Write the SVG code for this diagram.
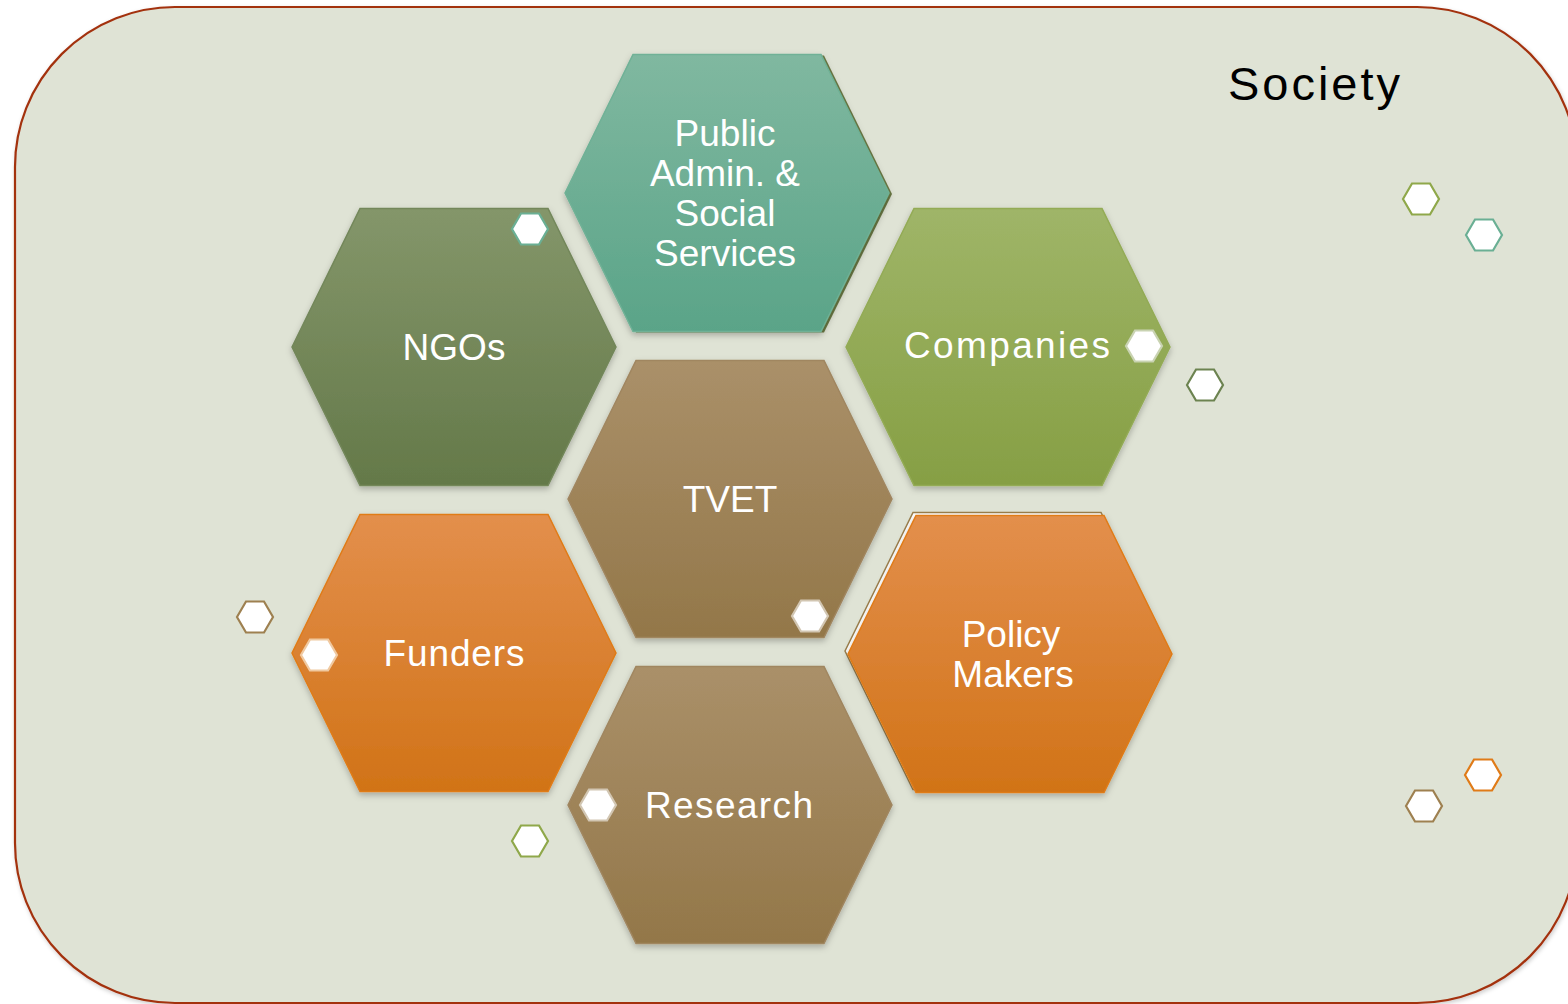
<svg xmlns="http://www.w3.org/2000/svg" width="1568" height="1004" viewBox="0 0 1568 1004">
<style>
.lbl{font-family:"Liberation Sans",Arial,sans-serif;font-size:37px;fill:#ffffff;text-anchor:middle}
.soc{font-family:"Liberation Sans",Arial,sans-serif;font-size:47px;fill:#000000}
.sm{fill:#ffffff;stroke-width:2.2}
</style>
<defs>
<polygon id="hex" points="-162,0 -94,-138.5 94,-138.5 162,0 94,138.5 -94,138.5"/>
<polygon id="shex" points="-18,0 -9,-15.5 9,-15.5 18,0 9,15.5 -9,15.5"/>
<linearGradient id="gTeal" x1="0" y1="0" x2="0" y2="1"><stop offset="0" stop-color="#80b8a0"/><stop offset="1" stop-color="#5aa488"/></linearGradient>
<linearGradient id="gOlive" x1="0" y1="0" x2="0" y2="1"><stop offset="0" stop-color="#84966a"/><stop offset="1" stop-color="#647949"/></linearGradient>
<linearGradient id="gGreen" x1="0" y1="0" x2="0" y2="1"><stop offset="0" stop-color="#9fb568"/><stop offset="1" stop-color="#869f44"/></linearGradient>
<linearGradient id="gBrown" x1="0" y1="0" x2="0" y2="1"><stop offset="0" stop-color="#aa9069"/><stop offset="1" stop-color="#937749"/></linearGradient>
<linearGradient id="gOrange" x1="0" y1="0" x2="0" y2="1"><stop offset="0" stop-color="#e38f4c"/><stop offset="1" stop-color="#d17317"/></linearGradient>
<filter id="sh" x="-20%" y="-20%" width="140%" height="140%"><feDropShadow dx="0" dy="3" stdDeviation="3" flood-color="#000" flood-opacity="0.25"/></filter>
<filter id="shb" x="-5%" y="-5%" width="110%" height="110%"><feDropShadow dx="1" dy="2" stdDeviation="2" flood-color="#000" flood-opacity="0.2"/></filter>
</defs>
<rect width="1568" height="1004" fill="#ffffff"/>
<g id="society">
<rect x="15" y="7" width="1562" height="996" rx="160" ry="160" fill="#dfe3d5" stroke="#a3310f" stroke-width="2.2" filter="url(#shb)"/>
<text class="soc" x="1228" y="100" textLength="172" lengthAdjust="spacing">Society</text>
</g>
<g id="connectors"></g>
<g id="public-admin" transform="translate(727,193)">
<use href="#hex" transform="translate(3,1)" fill="#6b7a44"/>
<use href="#hex" fill="url(#gTeal)" stroke="#6fb196" stroke-width="1.5" filter="url(#sh)"/>
<text class="lbl" x="-2" y="-47">Public</text>
<text class="lbl" x="-2" y="-7">Admin. &amp;</text>
<text class="lbl" x="-2" y="33">Social</text>
<text class="lbl" x="-2" y="73">Services</text>
</g>
<g id="ngos" transform="translate(454,347)">
<use href="#hex" fill="url(#gOlive)" stroke="#73875a" stroke-width="1.5" filter="url(#sh)"/>
<text class="lbl" x="0" y="13">NGOs</text>
<use href="#shex" x="76" y="-118" class="sm" stroke="#6aaf94"/>
</g>
<g id="companies" transform="translate(1008,347)">
<use href="#hex" fill="url(#gGreen)" stroke="#93ab55" stroke-width="1.5" filter="url(#sh)"/>
<text class="lbl" x="-1" y="11" textLength="206" lengthAdjust="spacing">Companies</text>
<use href="#shex" x="136" y="-1" class="sm" stroke="#c9d3b2"/>
</g>
<g id="tvet" transform="translate(730,499)">
<use href="#hex" fill="url(#gBrown)" stroke="#a08660" stroke-width="1.5" filter="url(#sh)"/>
<text class="lbl" x="0" y="13">TVET</text>
<use href="#shex" x="80" y="117" class="sm" stroke="#d2c6b2"/>
</g>
<g id="funders" transform="translate(454,653)">
<use href="#hex" fill="url(#gOrange)" stroke="#e07b18" stroke-width="1.5" filter="url(#sh)"/>
<text class="lbl" x="0" y="13" textLength="141" lengthAdjust="spacing">Funders</text>
<use href="#shex" x="-135" y="2" class="sm" stroke="#f0c9a0"/>
</g>
<g id="policy-makers" transform="translate(1010,654)">
<use href="#hex" transform="translate(-3,-3)" fill="#ffffff" stroke="#9a7d4a" stroke-width="1.5"/>
<use href="#hex" fill="url(#gOrange)" stroke="#e07b18" stroke-width="1.5" filter="url(#sh)"/>
<text class="lbl" x="1" y="-7">Policy</text>
<text class="lbl" x="3" y="33">Makers</text>
</g>
<g id="research" transform="translate(730,805)">
<use href="#hex" fill="url(#gBrown)" stroke="#a08660" stroke-width="1.5" filter="url(#sh)"/>
<text class="lbl" x="-1" y="13" textLength="168" lengthAdjust="spacing">Research</text>
<use href="#shex" x="-132" y="0" class="sm" stroke="#d2c6b2"/>
</g>
<g id="small-hexes">
<use href="#shex" x="1421" y="199" class="sm" stroke="#8fa84a"/>
<use href="#shex" x="1484" y="235" class="sm" stroke="#6aaf94"/>
<use href="#shex" x="1205" y="385" class="sm" stroke="#6c8350"/>
<use href="#shex" x="255" y="617" class="sm" stroke="#9e8050"/>
<use href="#shex" x="530" y="841" class="sm" stroke="#8fa84a"/>
<use href="#shex" x="1483" y="775" class="sm" stroke="#e07b18"/>
<use href="#shex" x="1424" y="806" class="sm" stroke="#9e8050"/>
</g>
</svg>
